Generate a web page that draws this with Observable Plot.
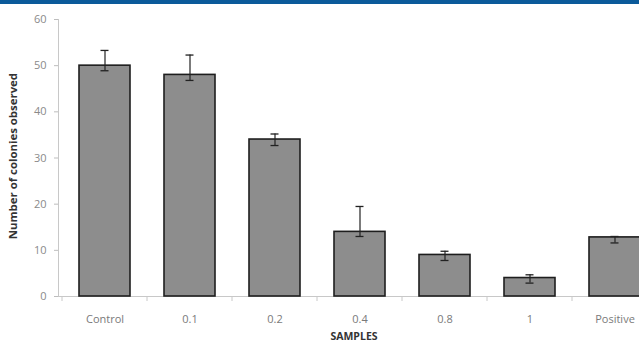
<!DOCTYPE html>
<html>
<head>
<meta charset="utf-8">
<script src="https://cdn.jsdelivr.net/npm/d3@7"></script>
<script src="https://cdn.jsdelivr.net/npm/@observablehq/plot@0.6"></script>
<style>
  html, body { margin: 0; padding: 0; background: #fff; overflow: hidden; }
  #band { height: 4px; background: #0b5a9a; width: 639px; }
  #chart svg { display: block; }
</style>
</head>
<body>
<div id="band"></div>
<div id="chart"></div>
<script>
const categories = ["Control", "0.1", "0.2", "0.4", "0.8", "1", "Positive"];
const values = [50, 48, 34, 14, 9, 4, 12.8];
const errLow = [48.9, 46.8, 32.7, 13.0, 7.8, 2.9, 11.6];
const errHigh = [53.3, 52.3, 35.2, 19.5, 9.8, 4.7, 13.0];
const yTicks = [0, 10, 20, 30, 40, 50, 60];

const data = categories.map((c, i) => ({cat: c, v: values[i], lo: errLow[i], hi: errHigh[i]}));

const W = 639, H = 339;
const r0 = 60, step = 85.5, padInner = 0.4;
const font = "'Open Sans', sans-serif";

// tick marks between categories along the bottom axis, positioned from the x scale
function categoryTicks() {
  return (index, scales) => {
    const x = scales.x, y = scales.y;
    const s = x(categories[1]) - x(categories[0]);
    const gap = s * padInner / 2;
    const y0 = y(0);
    const g = d3.create("svg:g").attr("stroke", "#c8c8c8").attr("stroke-width", 1);
    for (const c of categories) {
      const bx = x(c) - gap;
      g.append("line").attr("x1", bx).attr("x2", bx).attr("y1", y0).attr("y2", y0 + 5);
    }
    return g.node();
  };
}

const chart = Plot.plot({
  width: W,
  height: H,
  marginTop: 15,
  marginBottom: 47,
  marginLeft: 58,
  marginRight: 0,
  style: {fontFamily: font, fontSize: "11px", background: "transparent", overflow: "hidden"},
  x: {domain: categories, range: [r0, r0 + step * 7], paddingInner: padInner, paddingOuter: 0.2, align: 0.5, axis: null},
  y: {domain: [0, 60], axis: null},
  marks: [
    // y axis line
    Plot.frame({anchor: "left", stroke: "#c8c8c8", strokeWidth: 1}),
    // y axis ticks and labels
    Plot.axisY(yTicks, {anchor: "left", tickSize: 4, tickPadding: 8, stroke: "#bdbdbd", fill: "#8a8a8a", fontSize: 11, label: null, tickFormat: d => d}),
    // x baseline
    Plot.ruleY([0], {stroke: "#c8c8c8", strokeWidth: 1}),
    // between-category ticks
    Plot.ruleY([0], {render: categoryTicks()}),
    // bars
    Plot.barY(data, {x: "cat", y: "v", fill: "#8d8d8d", stroke: "#1e1e1e", strokeWidth: 1.6}),
    // error bars
    Plot.ruleX(data, {x: "cat", y1: "lo", y2: "hi", stroke: "#222", strokeWidth: 1.2}),
    Plot.tickY(data, {x: "cat", y: "hi", stroke: "#222", strokeWidth: 1.3, insetLeft: 21.5, insetRight: 21.5}),
    Plot.tickY(data, {x: "cat", y: "lo", stroke: "#222", strokeWidth: 1.3, insetLeft: 21.5, insetRight: 21.5}),
    // x tick labels
    Plot.text(categories, {x: d => d, y: 0, dy: 23, text: d => d, fill: "#7a7a7a", fontSize: 11}),
    // x title
    Plot.text(["SAMPLES"], {x: () => "0.4", y: 0, dy: 40, dx: -6, text: d => d, fill: "#333", fontWeight: "bold", fontSize: 10.5}),
    // y title
    Plot.text(["Number of colonies observed"], {x: () => "Control", y: () => 30.4, dx: -92, rotate: -90, text: d => d, fill: "#333", fontWeight: "bold", fontSize: 11.4})
  ]
});
document.getElementById("chart").appendChild(chart);
</script>
</body>
</html>
